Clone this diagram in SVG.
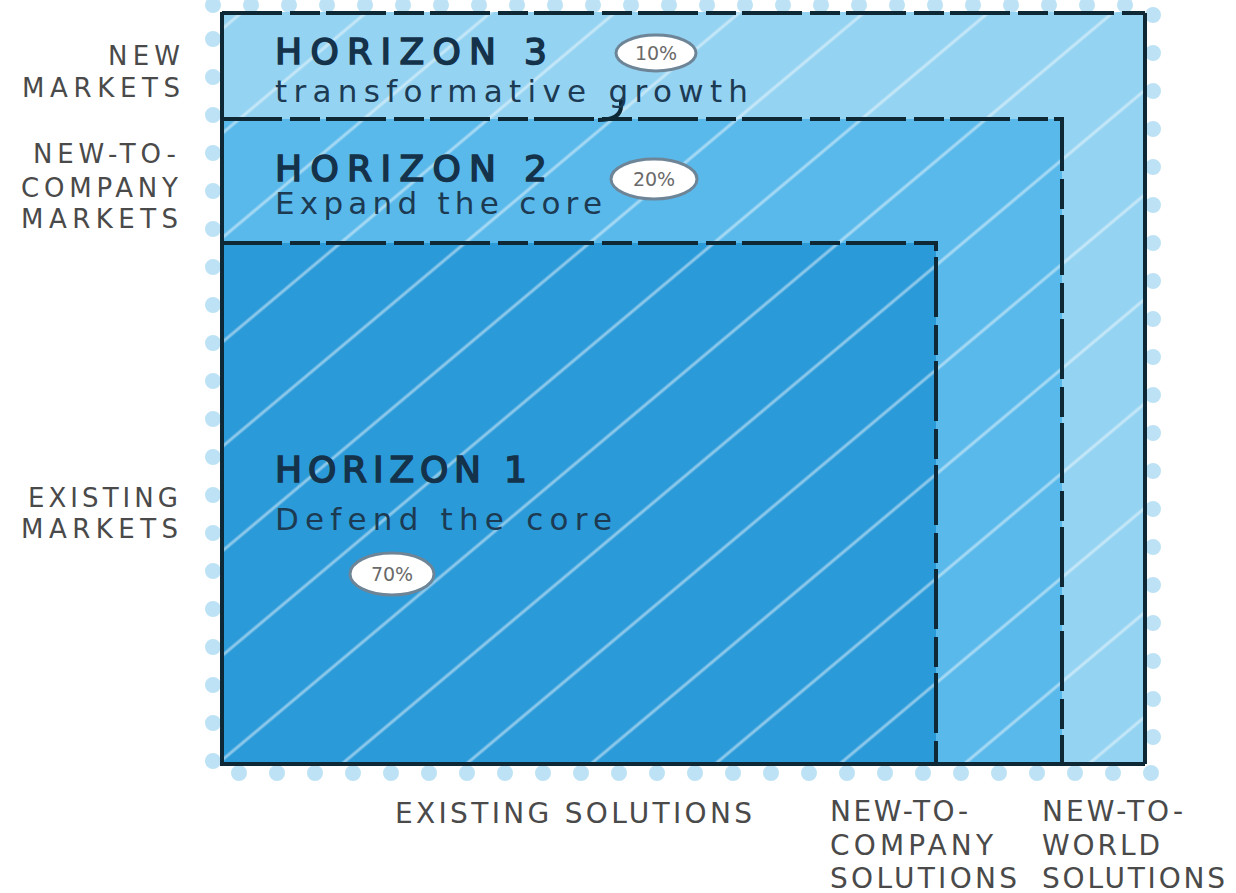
<svg xmlns="http://www.w3.org/2000/svg" width="1236" height="893" viewBox="0 0 1236 893">
<style>
.lbl{font-family:"DejaVu Sans",sans-serif;font-size:26px;fill:#4a4a4a;}
.lb2{font-family:"DejaVu Sans",sans-serif;font-size:28px;fill:#4a4a4a;}
.ttl{font-family:"DejaVu Sans",sans-serif;font-size:36px;fill:#14324a;stroke:#14324a;stroke-width:1.6;}
.sub{font-family:"DejaVu Sans",sans-serif;font-size:31px;fill:#1c3a52;}
.pct{font-family:"DejaVu Sans",sans-serif;font-size:19px;fill:#6a6a6a;}
.oval{fill:#ffffff;stroke:#6d8597;stroke-width:3;}
.edge{fill:none;stroke:#0f2836;stroke-width:4;stroke-dasharray:60 8 30 6;}
.solid{fill:none;stroke:#0f2836;stroke-width:4;}
</style>
<defs>
<pattern id="hatch" width="80" height="80" patternUnits="userSpaceOnUse" patternTransform="rotate(-40)">
<line x1="0" y1="5" x2="80" y2="5" stroke="#ffffff" stroke-width="3" stroke-opacity="0.45"/>
</pattern>
</defs>
<g id="blobs">
<rect x="213" y="5" width="940" height="768" fill="none" stroke="#7cc6ec" stroke-width="16" stroke-linecap="round" stroke-dasharray="0 38" opacity="0.5"/>
</g>
<g id="horizon3">
<rect x="222" y="12" width="923" height="752" fill="#94d3f2"/>
</g>
<g id="horizon2">
<rect x="222" y="119" width="840" height="645" fill="#5ab9eb"/>
</g>
<g id="horizon1">
<rect x="222" y="243" width="714" height="521" fill="#2b9ad9"/>
</g>
<rect x="222" y="12" width="923" height="752" fill="url(#hatch)"/>
<g id="connectors">
<path class="edge" d="M222,13 H1145"/>
<path class="solid" d="M1145,13 V764"/>
<path class="solid" d="M222,12 V764 H1145"/>
<path class="edge" d="M222,119 H1062 V764"/>
<path class="edge" d="M222,243 H936 V764"/>
<path class="solid" d="M598,120 Q621,120 621,106 V100" stroke-width="3"/>
</g>
<g id="h3-text">
<text class="ttl" x="275" y="64" textLength="272" lengthAdjust="spacing">HORIZON 3</text>
<text class="sub" x="275" y="102" textLength="473" lengthAdjust="spacing">transformative growth</text>
<ellipse class="oval" cx="656" cy="53" rx="40" ry="18"/>
<text class="pct" x="656" y="60" text-anchor="middle">10%</text>
</g>
<g id="h2-text">
<text class="ttl" x="275" y="181" textLength="272" lengthAdjust="spacing">HORIZON 2</text>
<text class="sub" x="275" y="214" textLength="327" lengthAdjust="spacing">Expand the core</text>
<ellipse class="oval" cx="654" cy="179" rx="43" ry="20"/>
<text class="pct" x="654" y="186" text-anchor="middle">20%</text>
</g>
<g id="h1-text">
<text class="ttl" x="275" y="482" textLength="252" lengthAdjust="spacing">HORIZON 1</text>
<text class="sub" x="275" y="530" textLength="337" lengthAdjust="spacing">Defend the core</text>
<ellipse class="oval" cx="392" cy="574" rx="42" ry="21"/>
<text class="pct" x="392" y="581" text-anchor="middle">70%</text>
</g>
<g id="row-labels">
<text class="lbl" x="180" y="65" text-anchor="end" textLength="72" lengthAdjust="spacing">NEW</text>
<text class="lbl" x="180" y="97" text-anchor="end" textLength="158" lengthAdjust="spacing">MARKETS</text>
<text class="lbl" x="176" y="163" text-anchor="end" textLength="143" lengthAdjust="spacing">NEW-TO-</text>
<text class="lbl" x="178" y="197" text-anchor="end" textLength="157" lengthAdjust="spacing">COMPANY</text>
<text class="lbl" x="178" y="228" text-anchor="end" textLength="157" lengthAdjust="spacing">MARKETS</text>
<text class="lbl" x="178" y="507" text-anchor="end" textLength="150" lengthAdjust="spacing">EXISTING</text>
<text class="lbl" x="178" y="538" text-anchor="end" textLength="157" lengthAdjust="spacing">MARKETS</text>
</g>
<g id="col-labels">
<text class="lb2" x="395" y="823" textLength="357" lengthAdjust="spacing">EXISTING SOLUTIONS</text>
<text class="lb2" x="830" y="821" textLength="138" lengthAdjust="spacing">NEW-TO-</text>
<text class="lb2" x="830" y="855" textLength="163" lengthAdjust="spacing">COMPANY</text>
<text class="lb2" x="830" y="888" textLength="187" lengthAdjust="spacing">SOLUTIONS</text>
<text class="lb2" x="1042" y="821" textLength="141" lengthAdjust="spacing">NEW-TO-</text>
<text class="lb2" x="1042" y="855" textLength="118" lengthAdjust="spacing">WORLD</text>
<text class="lb2" x="1042" y="888" textLength="183" lengthAdjust="spacing">SOLUTIONS</text>
</g>
</svg>
